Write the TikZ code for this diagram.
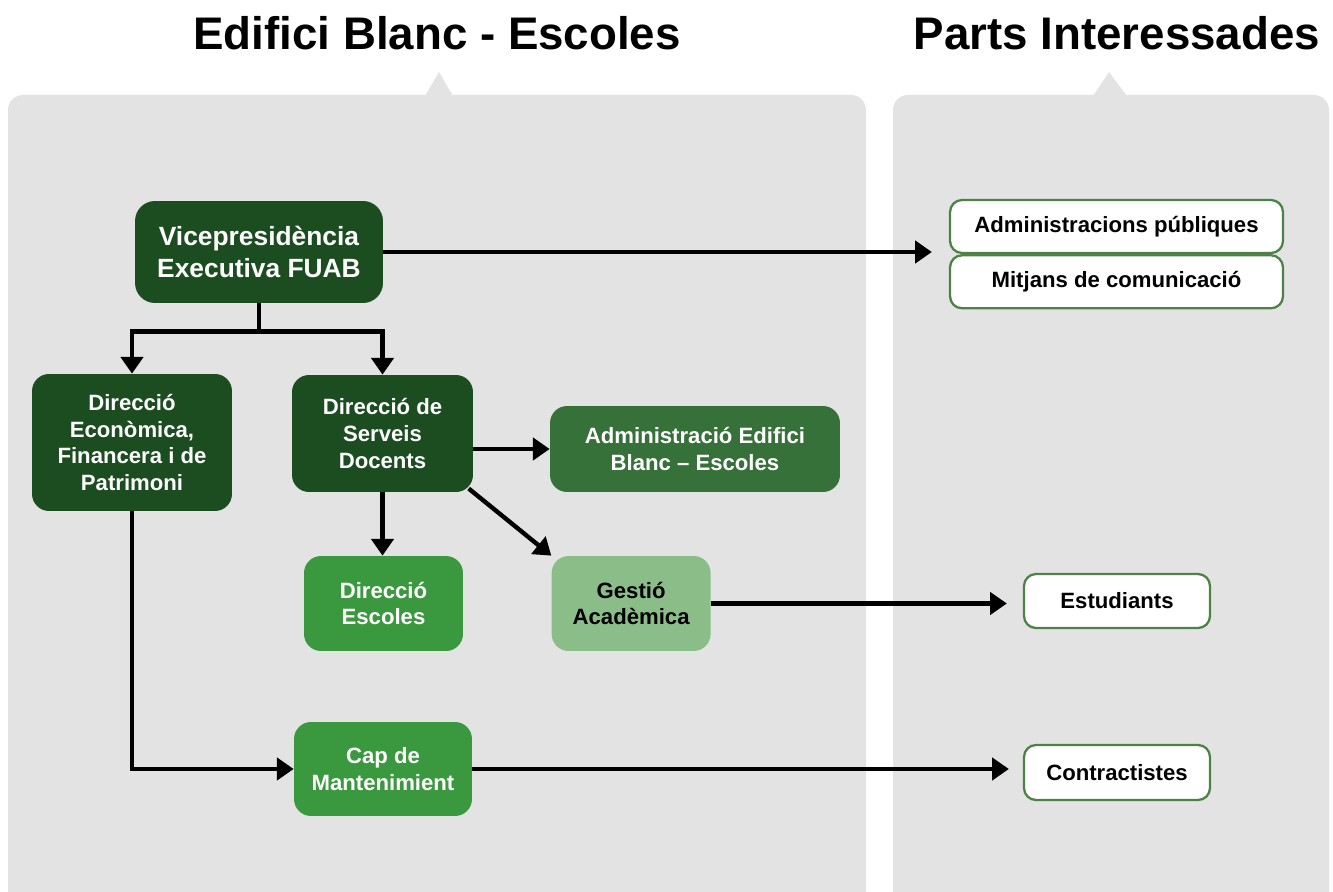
\documentclass[tikz,border=0pt]{standalone}
\usepackage{fontspec}
\setmainfont{Liberation Sans}
\usetikzlibrary{arrows.meta,positioning}
\definecolor{panelgrey}{HTML}{E3E3E3}
\definecolor{darkgreen}{HTML}{1C4D21}
\definecolor{midgreen}{HTML}{37713A}
\definecolor{brightgreen}{HTML}{3A993E}
\definecolor{palegreen}{HTML}{8BBD89}
\definecolor{edgegreen}{HTML}{4C8245}

\begin{document}
\begin{tikzpicture}[x=0.02cm,y=-0.02cm,>={Triangle[width=12.5pt,length=9.5pt]}]
                \tikzset{panel/.style={fill=panelgrey, rounded corners=0.3cm},
                         heading/.style={font=\bfseries\fontsize{26}{30}\selectfont},
                         unit/.style={rounded corners=0.34cm, align=center, inner sep=2pt, text=white,
                                      font=\bfseries\fontsize{12.6}{15.2}\selectfont},
                         party/.style={draw=edgegreen, line width=1.3pt, fill=white, rounded corners=0.24cm,
                                       inner sep=2pt, font=\bfseries\fontsize{12.6}{15.2}\selectfont},
                         link/.style={->, line width=2.5pt}}
                \useasboundingbox (0,0) rectangle (1333,892);
                \clip (0,0) rectangle (1333,892);
                % panels
                \fill[panel] (8,930) rectangle (866,95);
                \fill[panelgrey] (425,96) -- (439,72) -- (453,96) -- cycle;
                \fill[panel] (893,930) rectangle (1329,95);
                \fill[panelgrey] (1093,96) -- (1109,72) -- (1127,96) -- cycle;
                \node[heading] (left) at (437,33) {Edifici Blanc - Escoles};
                \node[heading] (right) at (1117,33) {Parts Interessades};
                % units
                \node[unit, fill=darkgreen, minimum width=4.96cm, minimum height=2.04cm, rounded corners=0.4cm,
                      font=\bfseries\fontsize{15}{18}\selectfont] (vice) at (259,252) {Vicepresidència\\Executiva FUAB};
                \node[unit, fill=darkgreen, minimum width=4cm, minimum height=2.74cm] (eco) at (132,442.5)
                      {Direcció\\Econòmica,\\Financera i de\\Patrimoni};
                \node[unit, fill=darkgreen, minimum width=3.62cm, minimum height=2.34cm] (docents) at (382.5,433.5)
                      {Direcció de\\Serveis\\Docents};
                \node[unit, fill=midgreen, minimum width=5.8cm, minimum height=1.72cm] (admin) at (695,449)
                      {Administració Edifici\\Blanc – Escoles};
                \node[unit, fill=brightgreen, minimum width=3.18cm, minimum height=1.9cm] (escoles) at (383.5,603.5)
                      {Direcció\\Escoles};
                \node[unit, fill=palegreen, text=black, minimum width=3.18cm, minimum height=1.9cm,
                      right=1.76cm of escoles] (gestio) {Gestió\\Acadèmica};
                \node[unit, fill=brightgreen, minimum width=3.56cm, minimum height=1.88cm] (cap) at (383,769)
                      {Cap de\\Mantenimient};
                % stakeholders
                \node[party, minimum width=6.66cm, minimum height=1.06cm] (pub) at (1116.5,226.5) {Administracions públiques};
                \node[party, minimum width=6.66cm, minimum height=1.06cm, below=0pt of pub] (media) {Mitjans de comunicació};
                \node[party, minimum width=3.72cm, minimum height=1.08cm] (estud) at (1117,601) {Estudiants};
                \node[party, minimum width=3.72cm, minimum height=1.1cm] (contr) at (1117,772.5) {Contractistes};
                % connectors
                \draw[link, shorten >=0.34cm] (vice.east) -- (vice.east -| pub.west);
                \draw[link] (vice.south) -- ++(0,28) coordinate (split) -| (eco.north);
                \draw[link] (split) -| (docents.north);
                \draw[link] (docents.east |- admin.west) -- (admin.west);
                \draw[link] (docents.south) -- (docents.south |- escoles.north);
                \draw[link, shorten <=-0.12cm] (docents.south east) -- (gestio.north west);
                \draw[link, shorten >=0.32cm] (gestio.east) -- (gestio.east -| estud.west);
                \draw[link] (eco.south) |- (cap.west);
                \draw[link, shorten >=0.28cm] (cap.east) -- (cap.east -| contr.west);
            \end{tikzpicture}
\end{document}
